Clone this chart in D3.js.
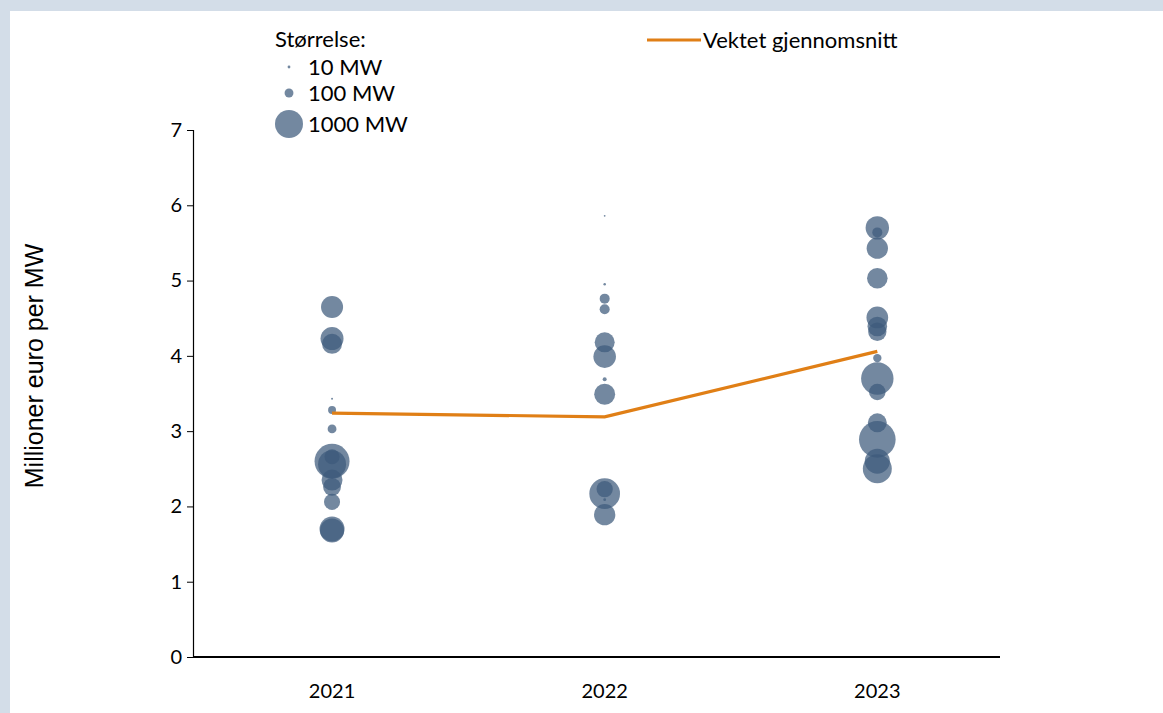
<!DOCTYPE html>
<html>
<head>
<meta charset="utf-8">
<script src="https://cdn.jsdelivr.net/npm/d3@7"></script>
<style>
  html, body { margin: 0; padding: 0; background: #d3dde8; }
  #chart { width: 1163px; height: 713px; }
</style>
</head>
<body>
<div id="chart"></div>
<script>
// Cost per MW (million euro) and project size (MW) for each year
const years = [2021, 2022, 2023];

const cost2021 = [4.65, 4.23, 4.16, 3.43, 3.28, 3.03, 2.60, 2.56, 2.66, 2.35, 2.26, 2.06, 1.70, 1.68];
const size2021 = [620, 675, 510, 5, 80, 100, 1560, 1000, 290, 560, 410, 330, 800, 735];

const cost2022 = [5.86, 4.95, 4.76, 4.62, 4.18, 3.99, 3.69, 3.49, 2.17, 2.23, 2.09, 1.89];
const size2022 = [4, 8, 128, 128, 510, 650, 20, 560, 1200, 340, 10, 580];

const cost2023 = [5.70, 5.64, 5.43, 5.03, 4.51, 4.39, 4.32, 3.97, 3.70, 3.52, 3.11, 2.89, 2.60, 2.50];
const size2023 = [700, 128, 580, 540, 600, 490, 430, 90, 1340, 350, 460, 1710, 800, 1070];

const weightedAverage = [3.24, 3.19, 4.06];

const legendSizes = [10, 100, 1000];
const legendLabels = ["10 MW", "100 MW", "1000 MW"];
const yTicks = [0, 1, 2, 3, 4, 5, 6, 7];

const labelFont = "Lato, 'Open Sans', sans-serif";

function buildPoints() {
  const costs = [cost2021, cost2022, cost2023];
  const sizes = [size2021, size2022, size2023];
  const points = [];
  years.forEach((year, i) => {
    costs[i].forEach((cost, j) => {
      points.push({ year, cost, size: sizes[i][j] });
    });
  });
  return points;
}

function drawChart() {
  const width = 1163;
  const height = 713;

  const svg = d3.select("#chart")
    .append("svg")
    .attr("width", width)
    .attr("height", height);

  // white panel, the blue-grey frame shows along the top and left edge
  svg.append("rect")
    .attr("x", 10)
    .attr("y", 11)
    .attr("width", width - 10)
    .attr("height", height - 11)
    .attr("fill", "#ffffff");

  const x = d3.scaleLinear()
    .domain([2020.49, 2023.45])
    .range([193, 1000]);

  const y = d3.scaleLinear()
    .domain([0, 7])
    .range([657, 130]);

  const r = d3.scaleSqrt()
    .domain([0, 1000])
    .range([0, 14]);

  // y axis
  svg.append("g")
    .attr("transform", "translate(193,0)")
    .call(d3.axisLeft(y).tickValues(yTicks).tickSize(6).tickPadding(5).tickFormat(d3.format("d")))
    .call((g) => g.select(".domain").attr("stroke", "#000").attr("stroke-width", 1.2))
    .call((g) => g.selectAll(".tick line").attr("stroke", "#000"))
    .call((g) => g.selectAll("text")
      .attr("fill", "#000")
      .style("font-family", labelFont)
      .style("font-size", "20px"));

  // x axis: a plain baseline with year labels, no tick marks
  svg.append("line")
    .attr("x1", x.range()[0])
    .attr("x2", x.range()[1])
    .attr("y1", y(0))
    .attr("y2", y(0))
    .attr("stroke", "#000")
    .attr("stroke-width", 2);

  svg.append("g")
    .selectAll("text")
    .data(years)
    .enter()
    .append("text")
    .attr("x", (d) => x(d))
    .attr("y", 698)
    .attr("text-anchor", "middle")
    .attr("fill", "#000")
    .style("font-family", labelFont)
    .style("font-size", "20px")
    .text((d) => d);

  svg.append("text")
    .attr("transform", "rotate(-90)")
    .attr("x", -366)
    .attr("y", 43)
    .attr("text-anchor", "middle")
    .attr("fill", "#000")
    .style("font-family", "'Liberation Sans', Arial, sans-serif")
    .style("font-size", "25px")
    .text("Millioner euro per MW");

  // bubbles
  const bubbleFill = "rgba(61, 90, 124, 0.72)";

  svg.append("g")
    .selectAll("circle")
    .data(buildPoints())
    .enter()
    .append("circle")
    .attr("cx", (d) => x(d.year))
    .attr("cy", (d) => y(d.cost))
    .attr("r", (d) => Math.max(r(d.size), 0.8))
    .attr("fill", bubbleFill);

  // weighted average line
  const line = d3.line()
    .x((d, i) => x(years[i]))
    .y((d) => y(d));

  svg.append("path")
    .datum(weightedAverage)
    .attr("d", line)
    .attr("fill", "none")
    .attr("stroke", "#e07f16")
    .attr("stroke-width", 3.2);

  // size legend
  svg.append("text")
    .attr("x", 275)
    .attr("y", 47)
    .attr("fill", "#000")
    .style("font-family", labelFont)
    .style("font-size", "22px")
    .text("Størrelse:");

  const legendRows = [67, 93, 124];
  const sizeLegend = svg.append("g")
    .selectAll("g")
    .data(legendSizes)
    .enter()
    .append("g")
    .attr("transform", (d, i) => `translate(289,${legendRows[i]})`);

  sizeLegend.append("circle")
    .attr("r", (d) => Math.max(r(d), 0.8))
    .attr("fill", bubbleFill);

  sizeLegend.append("text")
    .attr("x", 19)
    .attr("y", 8)
    .attr("fill", "#000")
    .style("font-family", labelFont)
    .style("font-size", "22px")
    .text((d, i) => legendLabels[i]);

  // line legend
  svg.append("line")
    .attr("x1", 647)
    .attr("x2", 701)
    .attr("y1", 40)
    .attr("y2", 40)
    .attr("stroke", "#e07f16")
    .attr("stroke-width", 3.2);

  svg.append("text")
    .attr("x", 703)
    .attr("y", 48)
    .attr("fill", "#000")
    .style("font-family", labelFont)
    .style("font-size", "22px")
    .text("Vektet gjennomsnitt");
}

drawChart();
</script>
</body>
</html>
